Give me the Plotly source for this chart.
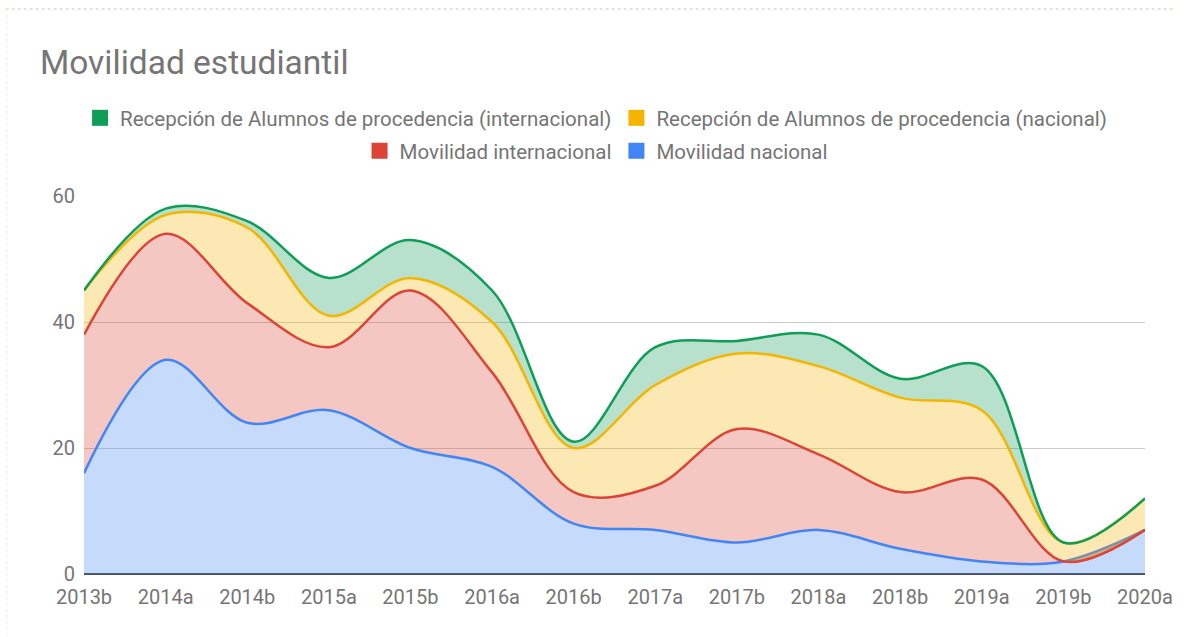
import plotly.graph_objects as go

# Semesters on the x axis
periodos = ["2013b", "2014a", "2014b", "2015a", "2015b", "2016a", "2016b",
            "2017a", "2017b", "2018a", "2018b", "2019a", "2019b", "2020a"]

# Students per semester, one list per series (stacked bottom to top)
movilidad_nacional = [16, 34, 24, 26, 20, 17, 8, 7, 5, 7, 4, 2, 2, 7]
movilidad_internacional = [22, 20, 19, 10, 25, 15, 5, 7, 18, 12, 9, 13, 0, 0]
recepcion_nacional = [7, 3, 12, 5, 2, 8, 7, 16, 12, 14, 15, 11, 3, 5]
recepcion_internacional = [0, 1, 1, 6, 6, 5, 1, 6, 2, 5, 3, 7, 0, 0]

y_ticks = [0, 20, 40, 60]

series = [
    ("Movilidad nacional", movilidad_nacional, (66, 133, 244), "legend2"),
    ("Movilidad internacional", movilidad_internacional, (219, 68, 55), "legend2"),
    ("Recepción de Alumnos de procedencia (nacional)", recepcion_nacional, (244, 180, 0), "legend"),
    ("Recepción de Alumnos de procedencia (internacional)", recepcion_internacional, (15, 157, 88), "legend"),
]

FONT = "Roboto, Arial, sans-serif"
GRAY = "#757575"

fig = go.Figure()

# Stacked smoothed areas
for name, values, (r, g, b), _ in series:
    fig.add_trace(go.Scatter(
        x=periodos, y=values, name=name,
        stackgroup="total", mode="lines",
        line=dict(color=f"rgb({r},{g},{b})", width=2.5, shape="spline", smoothing=1),
        fillcolor=f"rgba({r},{g},{b},0.3)",
        showlegend=False, hoverinfo="skip",
    ))

# Legend entries with square swatches: top row (reception), bottom row (mobility)
legend_order = [series[3], series[2], series[1], series[0]]
for name, _, (r, g, b), leg in legend_order:
    fig.add_trace(go.Scatter(
        x=[None], y=[None], mode="markers", name=name,
        marker=dict(symbol="square", size=16, color=f"rgb({r},{g},{b})"),
        legend=leg, showlegend=True, hoverinfo="skip",
    ))

legend_style = dict(
    orientation="h", xref="container", yref="container",
    x=0.503, xanchor="center", yanchor="middle", traceorder="normal",
    font=dict(family=FONT, size=20.5, color=GRAY),
    bgcolor="rgba(0,0,0,0)", itemclick=False, itemdoubleclick=False,
)

fig.update_layout(
    width=1185, height=637,
    margin=dict(l=84, r=30, t=196, b=63),
    paper_bgcolor="white", plot_bgcolor="white",
    font=dict(family=FONT, color=GRAY),
    title=dict(
        text="Movilidad estudiantil",
        x=40 / 1185, xanchor="left", xref="container",
        y=1 - 62 / 637, yanchor="middle", yref="container",
        font=dict(family=FONT, size=33.5, color=GRAY),
    ),
    legend=dict(y=1 - 118 / 637, **legend_style),
    legend2=dict(y=1 - 151 / 637, **legend_style),
    xaxis=dict(
        type="category", range=[0, len(periodos) - 1],
        showgrid=False, zeroline=False, showline=False,
        tickfont=dict(family=FONT, size=20, color=GRAY),
        ticks="", ticklabelstandoff=9,
    ),
    yaxis=dict(
        range=[0, 60], tickvals=y_ticks,
        showgrid=True, gridcolor="#cccccc", gridwidth=1,
        zeroline=True, zerolinecolor="#4a4f57", zerolinewidth=2,
        showline=False, ticks="", ticklabelstandoff=8,
        tickfont=dict(family=FONT, size=20, color=GRAY),
    ),
    hovermode=False,
    showlegend=True,
)

# Dotted page border along the top and left edges
fig.add_shape(type="line", xref="paper", yref="paper",
              x0=(5 - 84) / 1071, x1=(1185 - 84) / 1071,
              y0=(574 - 9) / 378, y1=(574 - 9) / 378,
              line=dict(color="#c5d48e", width=1, dash="dot"))
fig.add_shape(type="line", xref="paper", yref="paper",
              x0=(6 - 84) / 1071, x1=(6 - 84) / 1071,
              y0=(574 - 9) / 378, y1=(574 - 637) / 378,
              line=dict(color="#eef0e2", width=1, dash="dot"))

fig.write_html("out.html")
